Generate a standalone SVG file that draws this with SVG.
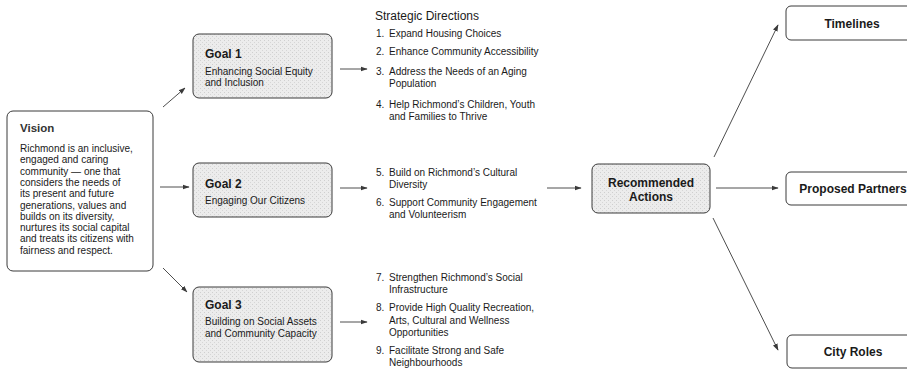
<svg xmlns="http://www.w3.org/2000/svg" width="907" height="371" viewBox="0 0 907 371">
<style>
text{font-family:"Liberation Sans",Arial,sans-serif;fill:#1a1a1a}
.box{fill:#fff;stroke:#3a3a3a;stroke-width:1}
.gbox{fill:url(#stip);stroke:#3a3a3a;stroke-width:1}
.t{font-size:12px;font-weight:bold}
.b{font-size:10px}
.h{font-size:12px}
.c{stroke:#3a3a3a;stroke-width:0.9;fill:none;marker-end:url(#ah)}
</style>
<defs>
<pattern id="stip" width="4" height="4" patternUnits="userSpaceOnUse">
<rect width="4" height="4" fill="#ececec"/>
<rect x="0" y="0" width="1" height="1" fill="#cfcfcf"/>
<rect x="2" y="2" width="1" height="1" fill="#d6d6d6"/>
</pattern>
<marker id="ah" viewBox="0 0 10 10" refX="9" refY="5" markerWidth="7" markerHeight="7" orient="auto" markerUnits="userSpaceOnUse">
<path d="M0,1.5 L10,5 L0,8.5 z" fill="#3a3a3a"/>
</marker>
</defs>

<g id="connectors">
<line class="c" x1="163" y1="107" x2="185" y2="88"/>
<line class="c" x1="160" y1="187" x2="189" y2="187"/>
<line class="c" x1="163" y1="268" x2="187" y2="292"/>
<line class="c" x1="340" y1="69" x2="367" y2="69"/>
<line class="c" x1="340" y1="188" x2="367" y2="188"/>
<line class="c" x1="340" y1="322" x2="367" y2="322"/>
<line class="c" x1="547" y1="188" x2="581" y2="188"/>
<line class="c" x1="714" y1="157" x2="778" y2="25"/>
<line class="c" x1="716" y1="188" x2="778" y2="188"/>
<line class="c" x1="713" y1="218" x2="778" y2="350"/>
</g>

<g id="vision">
<rect class="box" x="7" y="111" width="146" height="160" rx="6"/>
<text x="20" y="132" style="font-size:11.5px;font-weight:bold;fill:#333">Vision</text>
<text class="b" x="20" y="152">Richmond is an inclusive,</text>
<text class="b" x="20" y="163.3">engaged and caring</text>
<text class="b" x="20" y="174.6">community — one that</text>
<text class="b" x="20" y="185.9">considers the needs of</text>
<text class="b" x="20" y="197.2">its present and future</text>
<text class="b" x="20" y="208.5">generations, values and</text>
<text class="b" x="20" y="219.8">builds on its diversity,</text>
<text class="b" x="20" y="231.1">nurtures its social capital</text>
<text class="b" x="20" y="242.4">and treats its citizens with</text>
<text class="b" x="20" y="253.7">fairness and respect.</text>
</g>

<g id="goal1">
<rect class="gbox" x="193" y="34" width="139" height="64" rx="6"/>
<text class="t" x="205" y="57.5">Goal 1</text>
<text class="b" x="205" y="75">Enhancing Social Equity</text>
<text class="b" x="205" y="86">and Inclusion</text>
</g>

<g id="goal2">
<rect class="gbox" x="193" y="163" width="139" height="54" rx="6"/>
<text class="t" x="205" y="187.5">Goal 2</text>
<text class="b" x="205" y="204">Engaging Our Citizens</text>
</g>

<g id="goal3">
<rect class="gbox" x="193" y="287" width="139" height="75" rx="6"/>
<text class="t" x="205" y="309">Goal 3</text>
<text class="b" x="205" y="325">Building on Social Assets</text>
<text class="b" x="205" y="337">and Community Capacity</text>
</g>

<g id="directions1">
<text class="h" x="375" y="20">Strategic Directions</text>
<text class="b" x="376" y="37">1.</text><text class="b" x="389" y="37">Expand Housing Choices</text>
<text class="b" x="376" y="55">2.</text><text class="b" x="389" y="55">Enhance Community Accessibility</text>
<text class="b" x="376" y="75">3.</text><text class="b" x="389" y="75">Address the Needs of an Aging</text>
<text class="b" x="389" y="87">Population</text>
<text class="b" x="376" y="108">4.</text><text class="b" x="389" y="108">Help Richmond’s Children, Youth</text>
<text class="b" x="389" y="120">and Families to Thrive</text>
</g>

<g id="directions2">
<text class="b" x="376" y="176">5.</text><text class="b" x="389" y="176">Build on Richmond’s Cultural</text>
<text class="b" x="389" y="188">Diversity</text>
<text class="b" x="376" y="206">6.</text><text class="b" x="389" y="206">Support Community Engagement</text>
<text class="b" x="389" y="218">and Volunteerism</text>
</g>

<g id="directions3">
<text class="b" x="376" y="281">7.</text><text class="b" x="389" y="281">Strengthen Richmond’s Social</text>
<text class="b" x="389" y="293">Infrastructure</text>
<text class="b" x="376" y="311">8.</text><text class="b" x="389" y="311">Provide High Quality Recreation,</text>
<text class="b" x="389" y="323.5">Arts, Cultural and Wellness</text>
<text class="b" x="389" y="336">Opportunities</text>
<text class="b" x="376" y="354">9.</text><text class="b" x="389" y="354">Facilitate Strong and Safe</text>
<text class="b" x="389" y="366">Neighbourhoods</text>
</g>

<g id="actions">
<rect class="gbox" x="592" y="164" width="118" height="49" rx="6"/>
<text class="t" x="651" y="187" text-anchor="middle">Recommended</text>
<text class="t" x="651" y="201" text-anchor="middle">Actions</text>
</g>

<g id="timelines">
<rect class="box" x="786" y="6" width="135" height="34" rx="5"/>
<text class="t" x="852" y="27.5" text-anchor="middle">Timelines</text>
</g>

<g id="partners">
<rect class="box" x="786" y="172" width="135" height="33" rx="5"/>
<text class="t" x="853" y="192.5" text-anchor="middle">Proposed Partners</text>
</g>

<g id="roles">
<rect class="box" x="787" y="335" width="135" height="33" rx="5"/>
<text class="t" x="853" y="355.5" text-anchor="middle">City Roles</text>
</g>
</svg>
